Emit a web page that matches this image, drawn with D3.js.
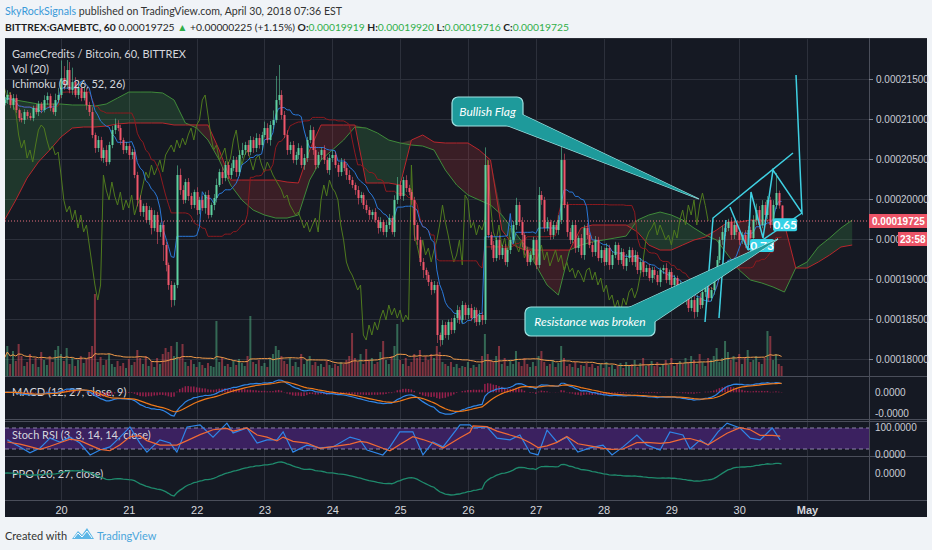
<!DOCTYPE html>
<html><head><meta charset="utf-8">
<script src="https://cdn.jsdelivr.net/npm/d3@7"></script>
<style>
html,body{margin:0;padding:0;background:#f0f3f7;}
svg{display:block;font-family:Lato,'Open Sans',sans-serif;}
</style></head><body>
<svg id="c" width="932" height="550"></svg>
<script>
// ---------------- DATA (prices in units of 1e-8 BTC) ----------------
const UNIT = 1e-8;
const startDay = 19 + 4/24;          // first hourly candle: Apr 19, 04:00
const firstOpen = 21200;
const closes = [
21237,21300,21175,21262,21112,21012,20987,21087,21037,21012,
21137,21087,21187,21112,21237,21287,21137,21087,21237,21300,
21512,21425,21612,21362,21462,21300,21387,21262,21337,21175,
21087,20800,20637,20737,20512,20612,20462,20675,20862,20925,
20887,20737,20612,20662,20550,20587,20300,19987,19837,19912,
19737,19862,19637,19800,19587,19675,19425,19175,18925,18737,
18925,20300,20112,19987,20212,20037,19925,20087,19862,19987,
19887,20050,19800,19925,20012,20175,20337,20262,20425,20300,
20387,20487,20337,20550,20612,20675,20587,20737,20637,20762,
20675,20800,20887,20737,20925,20987,21237,21300,21050,20800,
20612,20675,20487,20550,20637,20425,20512,20737,20862,20612,
20425,20550,20612,20487,20362,20512,20550,20425,20337,20462,
20387,20300,20237,20175,20112,20012,20050,19925,19862,19800,
19837,19737,19637,19712,19587,19675,19762,19587,19987,20175,
20037,20237,20137,20087,19987,19675,19487,19212,19112,19050,
18962,18862,18925,18300,18237,18425,18300,18462,18362,18512,
18612,18487,18675,18550,18637,18512,18612,18462,18550,18487,
20425,19550,19425,19262,19487,19300,19387,19212,19362,19487,
19675,19925,19712,19550,19362,19212,19300,19487,19175,20050,
19987,19637,19712,19550,19675,19612,19737,20487,19925,19587,
19487,19675,19387,19512,19300,19637,19550,19425,19337,19487,
19262,19362,19212,19387,19175,19300,19425,19237,19337,19162,
19262,19362,19212,19300,19112,19212,19087,19137,19012,19112,
19050,18962,19112,19137,18987,19087,18925,19012,18837,18925,
18737,18800,18637,18737,18587,18762,18675,18837,18887,18762,
18862,19050,19237,19487,19587,19637,19712,19550,19675,19587,
19487,19550,19425,19612,19512,19737,19862,19675,19925,19800,
19987,19675,19925,20075,19919,19725];
const upWick = [
40,60,30,50,45,20,60,35,25,40, 30,50,40,25,60,45,30,55,80,90,
220,150,125,100,180,60,90,40,70,50, 40,60,30,50,40,30,60,40,50,80,
60,40,30,50,30,40,30,40,60,30, 40,50,30,60,40,30,50,40,30,50,
30,120,80,60,40,50,40,30,60,40, 50,40,60,30,50,80,40,60,50,40,
60,50,40,60,90,40,60,50,40,60, 50,40,80,60,50,120,300,375,60,50,
60,40,50,40,60,30,50,40,60,40, 50,40,30,60,40,50,60,40,30,50,
40,50,60,40,30,50,40,30,60,40, 30,50,40,60,30,40,50,30,60,100,
50,40,60,40,30,40,30,40,50,30, 40,30,50,40,30,60,40,30,50,40,
60,40,50,30,40,50,40,30,60,40, 220,60,40,50,30,60,40,50,30,40,
50,90,40,60,30,40,50,40,30,100, 50,40,60,30,50,40,60,250,80,40,
50,40,60,30,50,40,60,30,40,50, 40,50,30,60,40,50,40,30,50,40,
50,40,30,60,40,50,30,40,50,40, 40,50,30,40,60,30,50,40,30,50,
30,50,40,30,50,40,60,30,40,50, 40,60,50,40,80,50,40,60,50,40,
50,40,60,50,40,60,80,50,60,40, 50,40,60,250,30,1];
const dnWick = [
30,50,40,60,35,45,30,50,40,30, 40,30,50,40,30,60,40,30,50,40,
40,60,50,40,60,30,50,40,30,60, 50,40,60,50,40,60,50,30,40,50,
40,60,50,40,60,50,40,80,50,60, 40,60,80,40,150,60,200,80,60,90,
70,40,60,50,40,60,50,40,60,50, 35,70,45,30,65,55,25,75,40,50,
50,40,60,50,40,60,50,40,60,50, 45,65,30,40,70,50,35,60,55,40,
60,50,40,60,50,40,60,50,40,60, 50,40,60,50,40,60,50,40,60,50,
40,60,50,40,60,80,60,50,40,60, 55,35,70,45,40,65,50,30,60,50,
40,60,50,40,60,200,60,50,100,60, 50,60,40,100,80,60,40,60,50,40,
60,50,40,60,50,40,60,50,40,60, 50,40,60,50,40,60,50,40,60,50,
40,60,50,150,60,50,40,60,50,40, 60,50,40,60,50,40,60,50,40,60,
50,40,60,50,40,60,50,40,60,50, 40,60,50,40,60,50,40,60,50,40,
60,50,40,60,50,40,60,50,40,60, 50,40,60,50,40,60,50,40,60,50,
40,60,50,40,80,60,50,40,60,50, 40,60,50,40,60,50,40,60,50,40,
60,50,40,60,50,40,60,50,40,60, 50,40,60,50,40,9];
const volumes = [
18,30,12,25,15,32,20,10,14,22, 12,18,9,24,16,11,20,14,26,30,
22,15,28,12,18,10,16,20,13,17, 24,30,82,14,19,11,16,22,12,9,
15,10,13,8,17,11,14,26,18,12, 20,10,15,9,18,12,22,28,24,30,
20,34,18,32,14,10,16,12,9,14, 11,8,13,10,9,55,14,18,10,12,
9,15,11,17,13,10,20,60,14,12, 16,10,13,9,18,22,30,26,20,15,
12,18,10,14,9,22,12,16,20,11, 14,10,12,9,15,11,8,12,10,14,
12,16,20,43,18,14,22,12,27,15, 18,12,14,24,35,16,12,20,30,52,
16,12,18,10,14,22,18,26,14,20, 16,22,18,30,24,14,12,10,14,9,
12,8,10,9,14,8,11,9,12,20, 42,22,16,14,20,30,12,18,10,15,
12,25,14,10,18,12,9,14,10,20, 25,14,10,12,16,9,13,30,18,10,
12,9,14,8,11,10,13,9,12,8, 10,12,8,14,9,11,7,10,13,8,
14,10,12,16,9,13,18,10,12,15, 10,14,9,12,16,11,18,10,13,15,
12,18,14,20,16,12,22,14,10,18, 16,20,28,14,18,35,24,16,20,14,
22,12,18,26,14,16,20,14,12,18, 45,40,16,22,12,10];
// Ichimoku leading spans, one value every 4 hours from startDay (shifted 26 bars ahead)
const leadA = [21262,21237,21212,21187,21187,21187,21175,21175,21162,21187,
21262,21337,21337,21337,21325,21237,20950,20887,20737,20487,
20175,19987,19862,19800,19762,19762,19800,20237,20487,20612,
20737,20900,20887,20825,20737,20700,20675,20662,20612,20362,
20175,20050,19987,19925,19800,19612,19425,19175,18925,18800,
19362,19425,19462,19487,19512,19537,19737,19800,19837,19800,
19737,19637,19550,19487,19300,19112,18987,18950,18900,18837,
19137,19212,19400,19512,19637,19737];
const leadB = [19737,19987,20262,20462,20612,20775,20887,20900,20900,20912,
20937,20950,20950,20950,20950,20925,20925,20925,20925,20612,
20237,20237,20237,20237,20237,20212,20200,20612,20925,20925,
20925,20925,20200,20200,20200,20175,20737,20800,20712,20700,
20700,20700,20612,20487,19612,19425,19362,19362,19362,19362,
19362,19637,19675,19675,19675,19675,19587,19425,19362,19362,
19425,19487,19525,19612,19712,19712,19737,19737,19737,19687,
19137,19137,19212,19300,19400,19425];
// Stoch RSI readings (hours from startDay, %K, %D)
const stochHours = [1,5.5,9,12.6,16.1,19.6,23.2,26.7,30.3,33.8,
37.3,40.9,44.4,47.9,50.4,55,58.6,61,64.6,69.2,
73.8,78.7,80.9,85.8,89.4,92.9,96.4,98.6,102.1,107,
111.6,116.2,122.3,125.8,128.3,133.9,136.4,139.9,144.5,148.1,
151.6,155.2,161.2,164.7,165.8,170.7,174.3,178.9,182.4,186,
188.8,192,195.5,199,202.9,207.2,211.8,215,218.9,223.8,
227.4,232,235.5,240.1,242.6,246.2,249,252.5,255.7,260.3,
263.9,267.4,271.7,274.5];
const stochK = [46,26,9,23,51,40,54,37,3,17, 26,54,83,37,11,46,37,11,83,89,
54,94,66,80,37,46,46,69,11,31, 23,26,54,46,17,3,26,69,69,3,
40,26,89,89,80,83,51,46,60,9, 3,74,40,54,11,23,31,3,26,60,
31,17,69,60,20,46,31,69,94,80, 51,46,80,46];
const stochD = [40,34,27,19,28,38,48,44,31,19, 15,32,55,58,44,31,31,31,44,61,
75,79,71,80,60,54,43,54,42,37, 22,27,34,42,39,22,15,33,55,47,
37,23,52,68,86,84,71,60,52,38, 24,29,39,56,35,29,22,19,20,38,
39,36,39,49,50,42,32,49,65,81, 75,59,59,57];
const priceTicks = [18000,18500,19000,19500,20000,20500,21000,21500];
const dayTicks = [20,21,22,23,24,25,26,27,28,29,30,31];
const dayLabels = ["20","21","22","23","24","25","26","27","28","29","30","May"];
// user drawings: [day, price] points
const flagPaths = [
 [[29.496,18462],[29.614,19762],[30.793,20575]],
 [[29.702,18512],[29.805,19737]],
 [[29.864,19900],[30.130,19362],[30.174,20087],[30.351,19512],[30.498,20362],[30.926,19825],[30.838,21550]],
 [[30.130,19362],[30.926,19825]]
];
const ratioLabels = [{t:"0.73", d:30.16, p:19500},{t:"0.65", d:30.50, p:19760}];
const lastPrice = 19725;
const countdownPrice = 19500;

// ---------------- LAYOUT ----------------
const svg = d3.select('#c');
const PL=5, PR=869, PE=927;
const P = {top:39, main:376, ppoBot:500, axisBot:517};
const xs = d3.scaleLinear().domain([19.174,31.914]).range([PL,PR]);
const ys = d3.scaleLinear().domain([20000,18000]).range([199,359]);
const yv = d3.scaleLinear().domain([0,100]).range([P.main,P.main-100]);
const ySt = d3.scaleLinear().domain([0,100]).range([456,421]);
const tOf = i => startDay + i/24;
const n = closes.length;
const opens = closes.map((c,i)=> i===0 ? firstOpen : closes[i-1]);
const highs = closes.map((c,i)=> Math.max(c,opens[i]) + upWick[i]);
const lows = closes.map((c,i)=> Math.min(c,opens[i]) - dnWick[i]);
const AX = 'Liberation Sans, Arial, sans-serif';

svg.append('rect').attr('width',932).attr('height',550).attr('fill','#f0f3f7');

// header
const h1 = svg.append('text').attr('x',5).attr('y',15).attr('font-size',10.6).attr('fill','#333');
h1.append('tspan').attr('fill','#3a9ad9').text('SkyRockSignals');
h1.append('tspan').text(' published on TradingView.com, April 30, 2018 07:36 EST');
const h2 = svg.append('text').attr('x',5).attr('y',31).attr('font-size',10.3).attr('fill','#1e1e1e');
const gr = '#2fae48';
[['BITTREX:GAMEBTC, 60','#1e1e1e',true],[' 0.00019725 ','#1e1e1e',false],['▲',gr,false],[' +0.00000225 (+1.15%) ','#1e1e1e',false],
 ['O:','#1e1e1e',true],['0.00019919',gr,false],[' H:','#1e1e1e',true],['0.00019920',gr,false],[' L:','#1e1e1e',true],['0.00019716',gr,false],[' C:','#1e1e1e',true],['0.00019725',gr,false]]
 .forEach(([t,c,b])=>h2.append('tspan').attr('fill',c).attr('font-weight',b?'bold':null).text(t));

// chart background
svg.append('rect').attr('x',PL).attr('y',38).attr('width',PE-PL).attr('height',P.axisBot-38).attr('fill','#151923');
svg.append('line').attr('x1',PL).attr('x2',PE).attr('y1',38.5).attr('y2',38.5).attr('stroke','#2a2d36');

const defs = svg.append('defs');
defs.append('clipPath').attr('id','cm').append('rect').attr('x',PL).attr('y',P.top).attr('width',PR-PL).attr('height',P.main-P.top);
defs.append('clipPath').attr('id','call').append('rect').attr('x',PL).attr('y',P.top).attr('width',PR-PL).attr('height',P.ppoBot-P.top);

const grid = svg.append('g').attr('stroke','#2c303b').attr('stroke-width',1);
dayTicks.forEach(d=>grid.append('line').attr('x1',Math.round(xs(d))+0.5).attr('x2',Math.round(xs(d))+0.5).attr('y1',P.top).attr('y2',P.ppoBot));
priceTicks.forEach(p=>grid.append('line').attr('x1',PL).attr('x2',PR).attr('y1',Math.round(ys(p))+0.5).attr('y2',Math.round(ys(p))+0.5));

// stoch band (behind indicator lines)
svg.append('rect').attr('x',PL).attr('width',PR-PL).attr('y',ySt(80)).attr('height',ySt(20)-ySt(80)).attr('fill','#3b2160');
[80,20].forEach(v=>svg.append('line').attr('x1',PL).attr('x2',PR).attr('y1',ySt(v)).attr('y2',ySt(v))
 .attr('stroke','#8d86a8').attr('stroke-dasharray','4,3'));

// ---------------- MAIN PANE ----------------
const main = svg.append('g').attr('clip-path','url(#cm)');
const ci = d3.range(leadA.length);
const cT = k => startDay + 4*k/24;
main.append('path').datum(ci).attr('fill','rgba(76,175,80,0.2)')
 .attr('d', d3.area().x(k=>xs(cT(k))).y0(k=>ys(leadB[k])).y1(k=>ys(Math.max(leadA[k],leadB[k]))));
main.append('path').datum(ci).attr('fill','rgba(229,57,53,0.18)')
 .attr('d', d3.area().x(k=>xs(cT(k))).y0(k=>ys(leadA[k])).y1(k=>ys(Math.max(leadA[k],leadB[k]))));
main.append('path').datum(ci).attr('fill','none').attr('stroke','#3f8a3a').attr('stroke-width',1)
 .attr('d', d3.line().x(k=>xs(cT(k))).y(k=>ys(leadA[k])));
main.append('path').datum(ci).attr('fill','none').attr('stroke','#b8262c').attr('stroke-width',1)
 .attr('d', d3.line().x(k=>xs(cT(k))).y(k=>ys(leadB[k])));

// volume
const idx = d3.range(n);
main.append('g').selectAll('rect').data(idx).join('rect')
 .attr('x',i=>xs(tOf(i))-1).attr('width',2)
 .attr('y',i=>yv(volumes[i])).attr('height',i=>yv(0)-yv(volumes[i]))
 .attr('fill',i=>closes[i]>=opens[i]?'rgba(83,185,135,0.5)':'rgba(235,77,92,0.5)');
const volMA = idx.map(i=>d3.mean(volumes.slice(Math.max(0,i-19),i+1)));
main.append('path').datum(idx).attr('fill','none').attr('stroke','#f39c4a').attr('stroke-width',1)
 .attr('d', d3.line().x(i=>xs(tOf(i))).y(i=>yv(volMA[i])));

// ichimoku lines computed from candles
const midRange = (i,len)=>{const a=Math.max(0,i-len+1);return (d3.max(highs.slice(a,i+1))+d3.min(lows.slice(a,i+1)))/2;};
const tenkan = idx.map(i=>midRange(i,9));
const kijun = idx.map(i=>midRange(i,26));
main.append('path').datum(idx.filter(i=>i>=26)).attr('fill','none').attr('stroke','#4f7a1e').attr('stroke-width',1)
 .attr('d', d3.line().x(i=>xs(tOf(i-26))).y(i=>ys(closes[i])));
main.append('path').datum(idx).attr('fill','none').attr('stroke','#8e1a1f').attr('stroke-width',1)
 .attr('d', d3.line().x(i=>xs(tOf(i))).y(i=>ys(kijun[i])));
main.append('path').datum(idx).attr('fill','none').attr('stroke','#2a78d8').attr('stroke-width',1)
 .attr('d', d3.line().x(i=>xs(tOf(i))).y(i=>ys(tenkan[i])));

// candles
const cg = main.append('g');
const upC='#5fd1a0', dnC='#f0566b';
cg.selectAll('line').data(idx).join('line')
 .attr('x1',i=>Math.round(xs(tOf(i)))+0.5).attr('x2',i=>Math.round(xs(tOf(i)))+0.5)
 .attr('y1',i=>ys(highs[i])).attr('y2',i=>ys(lows[i]))
 .attr('stroke',i=>closes[i]>=opens[i]?upC:dnC).attr('stroke-opacity',0.55);
cg.selectAll('rect').data(idx).join('rect')
 .attr('x',i=>Math.round(xs(tOf(i)))-0.5).attr('width',2)
 .attr('y',i=>ys(Math.max(opens[i],closes[i])))
 .attr('height',i=>Math.max(1,Math.abs(ys(opens[i])-ys(closes[i]))))
 .attr('fill',i=>closes[i]>=opens[i]?upC:dnC);

// last price line
main.append('line').attr('x1',PL).attr('x2',PR).attr('y1',ys(lastPrice)).attr('y2',ys(lastPrice))
 .attr('stroke','#e8707f').attr('stroke-dasharray','1,2');

// drawings
const dl = d3.line().x(d=>xs(d[0])).y(d=>ys(d[1]));
flagPaths.forEach(pts=>main.append('path').datum(pts).attr('d',dl).attr('fill','none').attr('stroke','#3fd0e2').attr('stroke-width',1.5));
ratioLabels.forEach(r=>{
  const x=xs(r.d), y=ys(r.p);
  main.append('rect').attr('x',x).attr('y',y).attr('width',24).attr('height',13).attr('rx',2).attr('fill','#35d2e6');
  main.append('text').attr('x',x+12).attr('y',y+10.5).attr('text-anchor','middle').attr('font-size',12).attr('font-weight','bold').attr('fill','#fff').text(r.t);
});

// callouts
function callout(bx,by,bw,bh,label,tail,tipD,tipP){
  const tx=xs(tipD), ty=ys(tipP);
  const g=main.append('g');
  const tp=`M${tail[0][0]},${tail[0][1]}L${tx},${ty}L${tail[1][0]},${tail[1][1]}Z`;
  g.append('path').attr('d',tp).attr('fill','#1e9a9b').attr('stroke','#9fe2e2').attr('stroke-width',1.2);
  g.append('rect').attr('x',bx).attr('y',by).attr('width',bw).attr('height',bh).attr('rx',6)
   .attr('fill','#1e9a9b').attr('stroke','#9fe2e2').attr('stroke-width',1.2);
  g.append('path').attr('d',tp).attr('fill','#1e9a9b');
  g.append('text').attr('x',bx+bw/2).attr('y',by+bh/2+4).attr('text-anchor','middle').attr('font-size',12)
   .attr('font-style','italic').attr('fill','#fff').text(label);
}
callout(452,97,71,29,'Bullish Flag',[[506,125],[521,114]],29.407,20000);
callout(525,307,130,29,'Resistance was broken',[[628,308],[654,322]],30.572,19500);

// pane titles
const lab = svg.append('g').attr('font-size',11).attr('fill','#d4d6dc');
[['GameCredits / Bitcoin, 60, BITTREX',58],['Vol (20)',73],['Ichimoku (9, 26, 52, 26)',88],
 ['MACD (12, 27, close, 9)',396],['Stoch RSI (3, 3, 14, 14, close)',439],['PPO (20, 27, close)',478]]
 .forEach(([t,y])=>lab.append('text').attr('x',12).attr('y',y).text(t));

// ---------------- MACD ----------------
function ema(a,len){const k=2/(len+1);let e=a[0];return a.map(v=>(e=v*k+e*(1-k)));}
const e12=ema(closes,12), e27=ema(closes,27), e20=ema(closes,20);
const macd=idx.map(i=>e12[i]-e27[i]);
const sig=ema(macd,9);
const hist=idx.map(i=>macd[i]-sig[i]);
const yM=d3.scaleLinear().domain(d3.extent(macd.concat(sig))).range([416,380]);
const mg=svg.append('g').attr('clip-path','url(#call)');
mg.append('g').selectAll('rect').data(idx).join('rect')
 .attr('x',i=>xs(tOf(i))-0.75).attr('width',1.5)
 .attr('y',i=>Math.min(yM(0),yM(hist[i]))).attr('height',i=>Math.abs(yM(0)-yM(hist[i])))
 .attr('fill','#d0245e').attr('opacity',0.7);
mg.append('path').datum(idx).attr('fill','none').attr('stroke','#2f86e8').attr('stroke-width',1.2)
 .attr('d',d3.line().x(i=>xs(tOf(i))).y(i=>yM(macd[i])));
mg.append('path').datum(idx).attr('fill','none').attr('stroke','#f07a1a').attr('stroke-width',1.2)
 .attr('d',d3.line().x(i=>xs(tOf(i))).y(i=>yM(sig[i])));

// ---------------- STOCH RSI ----------------
const si=d3.range(stochHours.length);
mg.append('path').datum(si).attr('fill','none').attr('stroke','#2f86e8').attr('stroke-width',1.2)
 .attr('d',d3.line().x(j=>xs(startDay+stochHours[j]/24)).y(j=>ySt(stochK[j])));
mg.append('path').datum(si).attr('fill','none').attr('stroke','#f06a35').attr('stroke-width',1.2)
 .attr('d',d3.line().x(j=>xs(startDay+stochHours[j]/24)).y(j=>ySt(stochD[j])));

// ---------------- PPO ----------------
const ppo=idx.map(i=>(e20[i]-e27[i])/e27[i]*100);
const yP=d3.scaleLinear().domain(d3.extent(ppo)).range([496,462]);
mg.append('path').datum(idx).attr('fill','none').attr('stroke','#1f8a6c').attr('stroke-width',1.3)
 .attr('d',d3.line().x(i=>xs(tOf(i))).y(i=>yP(ppo[i])));

// separators
const sep = svg.append('g').attr('stroke','#4a4e5a');
[376.5,419.5,421.5,456.5,500.5].forEach(y=>sep.append('line').attr('x1',PL).attr('x2',PE).attr('y1',y).attr('y2',y));
sep.append('line').attr('x1',PR+0.5).attr('x2',PR+0.5).attr('y1',38).attr('y2',P.ppoBot);

// price axis
const pa = svg.append('g').attr('transform',`translate(${PR},0)`)
 .call(d3.axisRight(ys).tickValues(priceTicks).tickSize(4).tickPadding(3)
   .tickFormat(p=> p===countdownPrice ? (p*UNIT).toFixed(8).slice(0,5) : (p*UNIT).toFixed(8)));
pa.select('.domain').remove();
pa.selectAll('line').attr('stroke','#7d818c');
pa.selectAll('text').attr('fill','#c9ccd4').attr('font-size',10).attr('font-family',AX);
const axT = (t,y)=>svg.append('text').attr('x',PR+6).attr('y',y+3.5).attr('font-size',10).attr('fill','#c9ccd4')
 .attr('font-family',AX).text(t);
axT('0.0000',yM(0)); axT('-0.0000',413); axT('100.0000',427); axT('0.0000',454); axT('0.0000',yP(0));
// price badges
const yl=ys(lastPrice);
svg.append('rect').attr('x',PR).attr('y',yl-7).attr('width',PE-PR).attr('height',14).attr('fill','#ec5467');
svg.append('text').attr('x',PR+3).attr('y',yl+3.7).attr('font-size',10).attr('font-weight','bold').attr('fill','#fff')
 .attr('font-family',AX).text((lastPrice*UNIT).toFixed(8));
const y195=ys(countdownPrice);
svg.append('rect').attr('x',898).attr('y',y195-7).attr('width',PE-898).attr('height',14).attr('fill','#ec5467');
svg.append('text').attr('x',900).attr('y',y195+3.7).attr('font-size',10).attr('font-weight','bold').attr('fill','#fff')
 .attr('font-family',AX).text('23:58');

// time axis
const ta = svg.append('g').attr('transform',`translate(0,${P.ppoBot})`)
 .call(d3.axisBottom(xs).tickValues(dayTicks).tickSize(0).tickPadding(6).tickFormat((d,i)=>dayLabels[i]));
ta.select('.domain').remove();
ta.selectAll('text').attr('fill','#d4d6dc').attr('font-size',11).attr('font-weight',(d,i)=>dayLabels[i]==='May'?'bold':null);

// footer
svg.append('text').attr('x',5).attr('y',540).attr('font-size',11).attr('fill','#333').text('Created with');
svg.append('path').attr('d','M72,539 L78,531 L82,535 L87,528 L94,539 Z').attr('fill','#5db6e6');
svg.append('path').attr('d','M74,538 L78,533 L82,537 L87,531 L92,538').attr('fill','none').attr('stroke','#fff').attr('stroke-width',1);
svg.append('text').attr('x',97).attr('y',540).attr('font-size',11).attr('fill','#4aa6dc').text('TradingView');
</script>
</body></html>
